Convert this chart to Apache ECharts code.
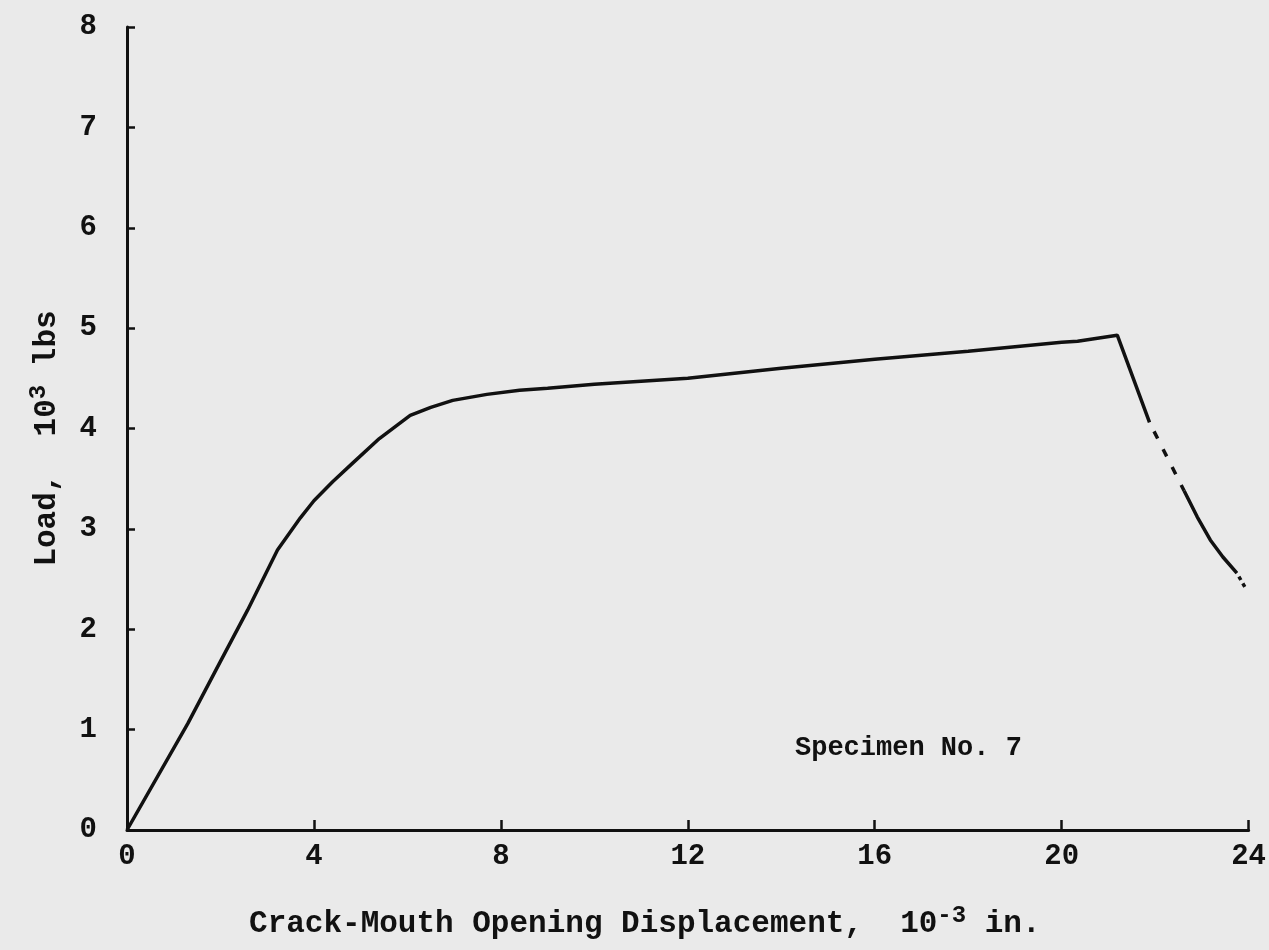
<!DOCTYPE html>
<html>
<head>
<meta charset="utf-8">
<script src="https://cdn.jsdelivr.net/npm/echarts@6/dist/echarts.min.js"></script>
<style>html,body{margin:0;padding:0;background:#eaeaea;}#c{width:1269px;height:950px;}</style>
</head>
<body>
<div id="c"></div>
<script>
// Crack-mouth opening displacement (10^-3 in.) and load (10^3 lbs)
const solidX = [0, 1.3, 2.0, 2.58, 3.22, 3.71, 4.0, 4.4, 4.84, 5.4, 6.06, 6.5, 6.97, 7.7, 8.4, 9, 10, 11, 12, 14, 16, 18, 20, 20.34, 21.19, 21.88];
const solidY = [0, 1.06, 1.68, 2.19, 2.79, 3.11, 3.28, 3.47, 3.66, 3.90, 4.13, 4.21, 4.28, 4.34, 4.38, 4.40, 4.44, 4.47, 4.50, 4.60, 4.69, 4.77, 4.86, 4.87, 4.93, 4.06];
const gapX = [21.88, 22.62];
const gapY = [4.06, 3.38];
const tailX = [22.62, 22.9, 23.18, 23.45, 23.75];
const tailY = [3.38, 3.12, 2.89, 2.72, 2.56];
const endX = [23.75, 23.92];
const endY = [2.56, 2.42];
const xTicks = [0, 4, 8, 12, 16, 20, 24];
const yTicks = [0, 1, 2, 3, 4, 5, 6, 7, 8];
const specimenLabel = 'Specimen No. 7';

const zip = (xs, ys) => xs.map((x, i) => [x, ys[i]]);
const ink = '#111';
const font = '"Liberation Mono", "DejaVu Sans Mono", monospace';

const chart = echarts.init(document.getElementById('c'));
chart.setOption({
  backgroundColor: '#eaeaea',
  animation: false,
  grid: { left: 127, right: 19, top: 27, bottom: 120, containLabel: false },
  xAxis: {
    type: 'value', min: 0, max: 24, interval: 4,
    axisLine: { lineStyle: { color: ink, width: 3 } },
    axisTick: { inside: true, length: 10, lineStyle: { color: ink, width: 2.5 } },
    splitLine: { show: false },
    axisLabel: { color: ink, fontFamily: font, fontWeight: 'bold', fontSize: 29, margin: 12,
      formatter: v => xTicks.includes(v) ? String(v) : '' },
    name: '{a|Crack-Mouth Opening Displacement,  10}{s|-3}{a| in.}',
    nameLocation: 'middle', nameGap: 74,
    nameTextStyle: { padding: [0, 86, 0, 0], rich: {
      a: { color: ink, fontFamily: font, fontWeight: 'bold', fontSize: 31 },
      s: { color: ink, fontFamily: font, fontWeight: 'bold', fontSize: 24, verticalAlign: 'top', padding: [0, 0, 16, 0] }
    } }
  },
  yAxis: {
    type: 'value', min: 0, max: 8, interval: 1,
    axisLine: { lineStyle: { color: ink, width: 3 } },
    axisTick: { inside: true, length: 8, lineStyle: { color: ink, width: 2.5 } },
    splitLine: { show: false },
    axisLabel: { color: ink, fontFamily: font, fontWeight: 'bold', fontSize: 29, margin: 30,
      formatter: v => yTicks.includes(v) ? String(v) : '' },
    name: '{a|Load,  10}{s|3}{a| lbs}',
    nameLocation: 'middle', nameGap: 60, nameRotate: 90,
    nameTextStyle: { padding: [0, 20, 0, 0], rich: {
      a: { color: ink, fontFamily: font, fontWeight: 'bold', fontSize: 31 },
      s: { color: ink, fontFamily: font, fontWeight: 'bold', fontSize: 24, verticalAlign: 'top', padding: [0, 0, 16, 0] }
    } }
  },
  series: [
    { type: 'line', data: zip(solidX, solidY), showSymbol: false,
      lineStyle: { color: ink, width: 3.5 } },
    { type: 'line', data: zip(gapX, gapY), showSymbol: false,
      lineStyle: { color: ink, width: 3.5, type: [8, 12], dashOffset: -10 } },
    { type: 'line', data: zip(tailX, tailY), showSymbol: false,
      lineStyle: { color: ink, width: 3.5 } },
    { type: 'line', data: zip(endX, endY), showSymbol: false,
      lineStyle: { color: ink, width: 3.5, type: [4, 4], dashOffset: -4 } }
  ],
  graphic: [
    { type: 'text', left: 795, top: 735,
      style: { text: specimenLabel, fill: ink, font: 'bold 27px ' + font } }
  ]
});
</script>
</body>
</html>
